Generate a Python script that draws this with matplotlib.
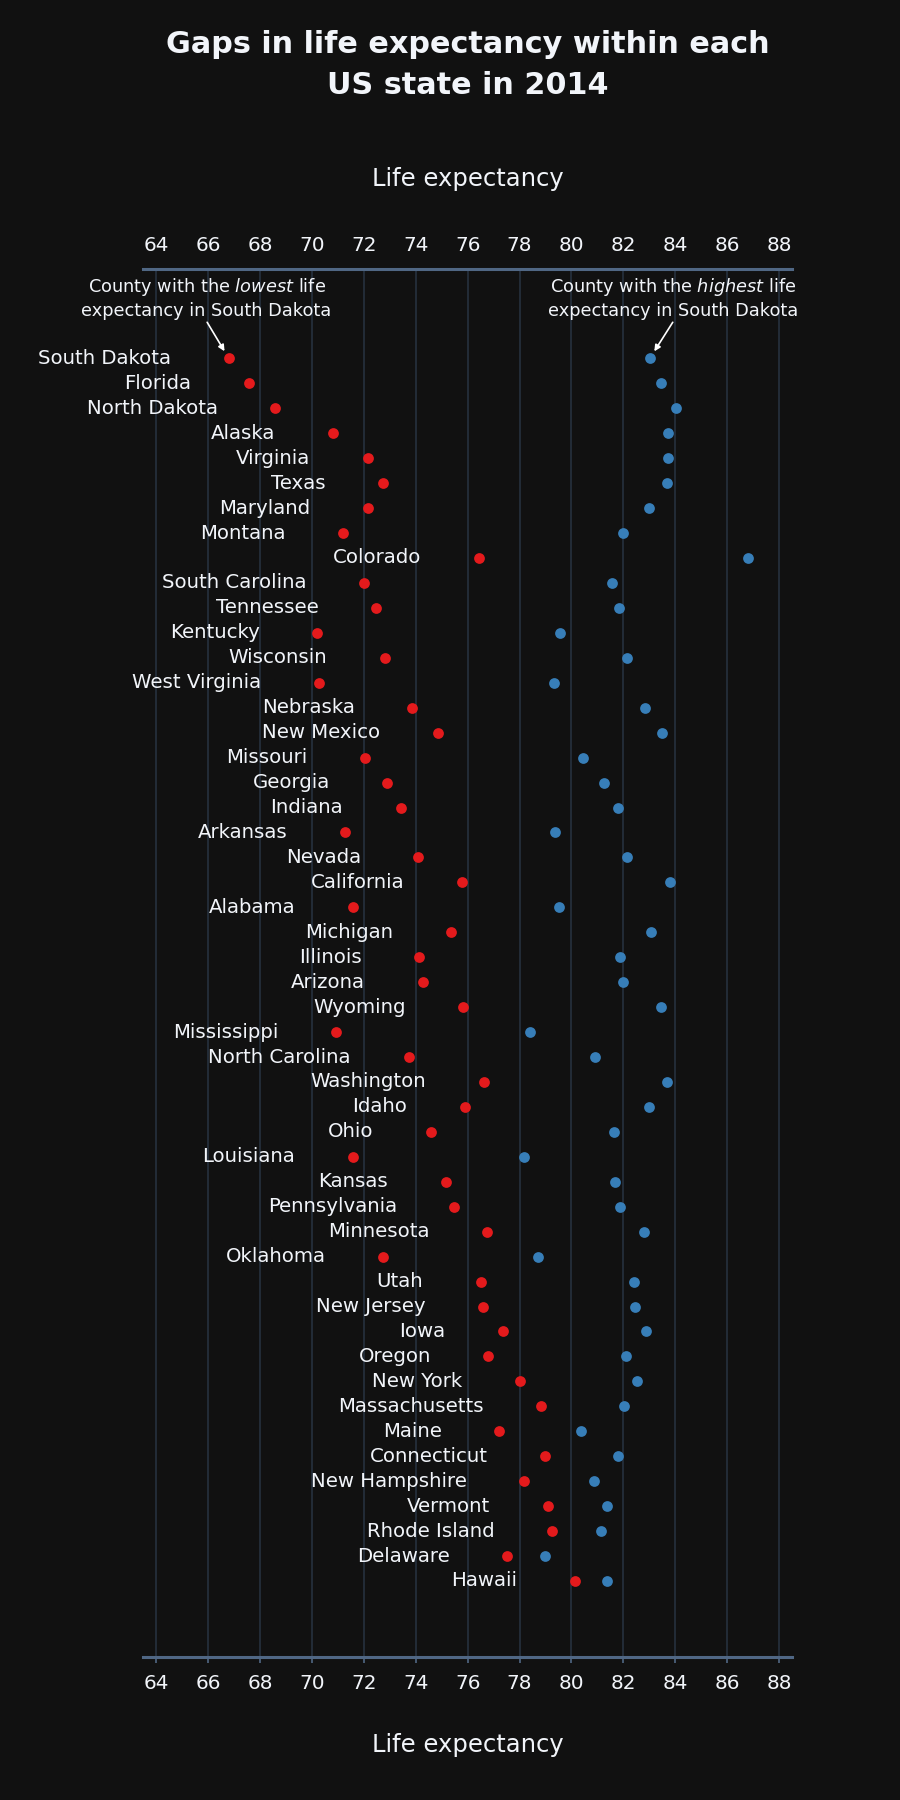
import matplotlib.pyplot as plt
import numpy as np

plt.rcParams['font.family'] = ['DejaVu Sans']
plt.rcParams['mathtext.fontset'] = 'dejavusans'

states = ["South Dakota", "Florida", "North Dakota", "Alaska", "Virginia", "Texas",
          "Maryland", "Montana", "Colorado", "South Carolina", "Tennessee", "Kentucky",
          "Wisconsin", "West Virginia", "Nebraska", "New Mexico", "Missouri", "Georgia",
          "Indiana", "Arkansas", "Nevada", "California", "Alabama", "Michigan",
          "Illinois", "Arizona", "Wyoming", "Mississippi", "North Carolina", "Washington",
          "Idaho", "Ohio", "Louisiana", "Kansas", "Pennsylvania", "Minnesota",
          "Oklahoma", "Utah", "New Jersey", "Iowa", "Oregon", "New York",
          "Massachusetts", "Maine", "Connecticut", "New Hampshire", "Vermont",
          "Rhode Island", "Delaware", "Hawaii"]

# county with the lowest life expectancy in each state
lowest = [66.79, 67.56, 68.58, 70.82, 72.15, 72.74, 72.15, 71.19, 76.42, 72.01,
          72.46, 70.20, 72.81, 70.27, 73.87, 74.85, 72.04, 72.90, 73.41, 71.26,
          74.10, 75.78, 71.57, 75.34, 74.14, 74.27, 75.82, 70.93, 73.72, 76.62,
          75.89, 74.58, 71.57, 75.16, 75.49, 76.75, 72.74, 76.51, 76.60, 77.37,
          76.80, 78.01, 78.83, 77.22, 78.99, 78.17, 79.10, 79.25, 77.53, 80.14]

# county with the highest life expectancy in each state
highest = [83.02, 83.44, 84.04, 83.73, 83.73, 83.70, 82.97, 81.98, 86.80, 81.58,
           81.84, 79.54, 82.13, 79.32, 82.82, 83.48, 80.45, 81.27, 81.78, 79.36,
           82.13, 83.79, 79.52, 83.08, 81.87, 81.98, 83.46, 78.39, 80.89, 83.70,
           82.97, 81.62, 78.15, 81.69, 81.87, 82.80, 78.70, 82.40, 82.46, 82.86,
           82.09, 82.53, 82.04, 80.36, 81.78, 80.85, 81.38, 81.14, 78.99, 81.36]

xticks = list(range(64, 90, 2))

bg = "#111111"
grid_c = "#283442"
line_c = "#506784"
txt_c = "#f2f5fa"
red = "#e41a1c"
blue = "#377eb8"

fig = plt.figure(figsize=(9, 18), dpi=100, facecolor=bg)
ax = fig.add_axes([0.1594, 0.0794, 0.7206, 0.7714], facecolor=bg)

rows = np.arange(len(states))
ax.scatter(lowest, rows, s=60, color=red, zorder=3, linewidths=0)
ax.scatter(highest, rows, s=60, color=blue, zorder=3, linewidths=0)

for name, lo, r in zip(states, lowest, rows):
    ax.annotate(name, (lo, r), xytext=(-41.5, 0), textcoords="offset points",
                ha="right", va="center", color=txt_c, fontsize=14.2)

ax.set_xlim(63.5, 88.5)
ax.set_ylim(len(states) + 2.05, -3.6)
ax.set_yticks([])
ax.set_xticks(xticks)
ax.grid(axis="x", color=grid_c, lw=1.1)
ax.set_axisbelow(True)

for side in ["left", "right"]:
    ax.spines[side].set_visible(False)
for side in ["top", "bottom"]:
    ax.spines[side].set_color(line_c)
    ax.spines[side].set_linewidth(2.2)

ax.tick_params(axis="x", colors=txt_c, labelsize=14.4, length=4, width=1.2,
               color=line_c, pad=8)
ax.set_xlabel("Life expectancy", color=txt_c, fontsize=17.5, labelpad=29)

top = ax.secondary_xaxis("top")
top.set_xticks(xticks)
top.spines["top"].set_visible(False)
top.tick_params(axis="x", colors=txt_c, labelsize=14.4, length=0, pad=10)
top.set_xlabel("Life expectancy", color=txt_c, fontsize=17.5, labelpad=36)

# callouts for South Dakota
ax.annotate("", xy=(lowest[0], 0), xytext=(-15.6, 26), textcoords="offset points",
            arrowprops=dict(arrowstyle="-|>", color="white", lw=1.2,
                            mutation_scale=9, shrinkA=0, shrinkB=6))
ax.annotate("County with the $\\mathit{lowest}$ life\nexpectancy in South Dakota",
            (lowest[0], 0), xytext=(-16, 43.3), textcoords="offset points",
            ha="center", va="center", color=txt_c, fontsize=12.8, linespacing=1.3)
ax.annotate("", xy=(highest[0], 0), xytext=(16.5, 26), textcoords="offset points",
            arrowprops=dict(arrowstyle="-|>", color="white", lw=1.2,
                            mutation_scale=9, shrinkA=0, shrinkB=6))
ax.annotate("County with the $\\mathit{highest}$ life\nexpectancy in South Dakota",
            (highest[0], 0), xytext=(16.6, 43.3), textcoords="offset points",
            ha="center", va="center", color=txt_c, fontsize=12.8, linespacing=1.3)

fig.text(0.5197, 0.9638, "Gaps in life expectancy within each\nUS state in 2014",
         ha="center", va="center", color=txt_c, fontsize=21.8, fontweight="bold",
         linespacing=1.5)

fig.savefig("out.png", facecolor=bg)
